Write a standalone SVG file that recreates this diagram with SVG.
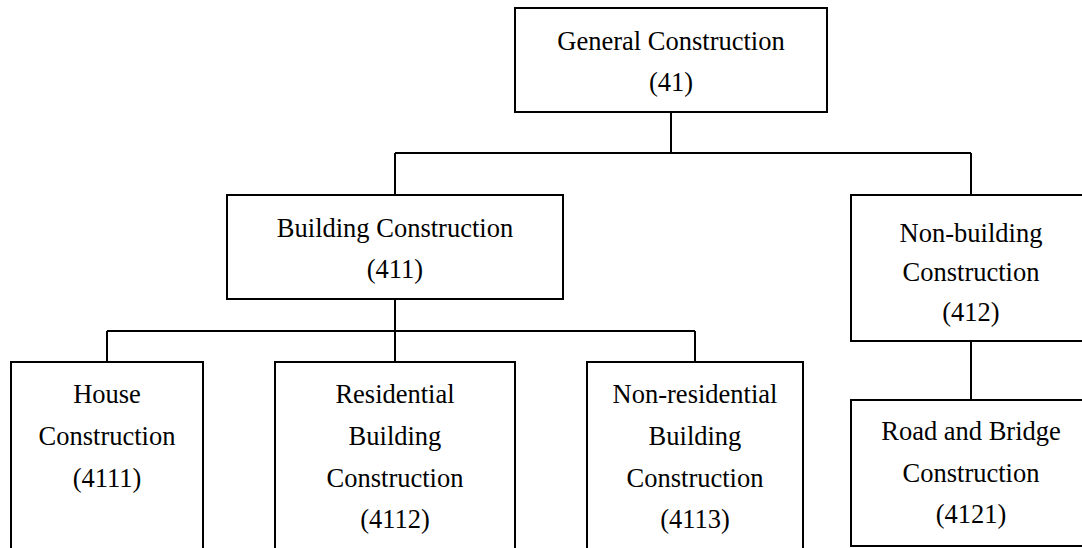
<svg xmlns="http://www.w3.org/2000/svg" width="1082" height="548" viewBox="0 0 1082 548">
<style>
.box{fill:#fff;stroke:#000;stroke-width:2}
.ln{fill:none;stroke:#000;stroke-width:2}
text{font-family:"Liberation Serif","Times New Roman",serif;font-size:26.5px;fill:#000;text-anchor:middle}
</style>
<rect width="1082" height="548" fill="#fff"/>
<g id="connectors">
<path class="ln" d="M671 112V153M395 153H971M395 153V195M971 153V195"/>
<path class="ln" d="M395 299V331M107 331H695M107 331V362M395 331V362M695 331V362"/>
<path class="ln" d="M971 341V400"/>
</g>
<g id="n41">
<rect class="box" x="515" y="8" width="312" height="104"/>
<text x="671" y="50">General Construction</text>
<text x="671" y="91">(41)</text>
</g>
<g id="n411">
<rect class="box" x="227" y="195" width="336" height="104"/>
<text x="395" y="237">Building Construction</text>
<text x="395" y="278">(411)</text>
</g>
<g id="n412">
<rect class="box" x="851" y="195" width="240" height="146"/>
<text x="971" y="242">Non-building</text>
<text x="971" y="281">Construction</text>
<text x="971" y="321">(412)</text>
</g>
<g id="n4111">
<rect class="box" x="11" y="362" width="192" height="200"/>
<text x="107" y="403">House</text>
<text x="107" y="445">Construction</text>
<text x="107" y="487">(4111)</text>
</g>
<g id="n4112">
<rect class="box" x="275" y="362" width="240" height="200"/>
<text x="395" y="403">Residential</text>
<text x="395" y="445">Building</text>
<text x="395" y="487">Construction</text>
<text x="395" y="528">(4112)</text>
</g>
<g id="n4113">
<rect class="box" x="587" y="362" width="216" height="200"/>
<text x="695" y="403">Non-residential</text>
<text x="695" y="445">Building</text>
<text x="695" y="487">Construction</text>
<text x="695" y="528">(4113)</text>
</g>
<g id="n4121">
<rect class="box" x="851" y="400" width="240" height="146"/>
<text x="971" y="440">Road and Bridge</text>
<text x="971" y="482">Construction</text>
<text x="971" y="523">(4121)</text>
</g>
</svg>
